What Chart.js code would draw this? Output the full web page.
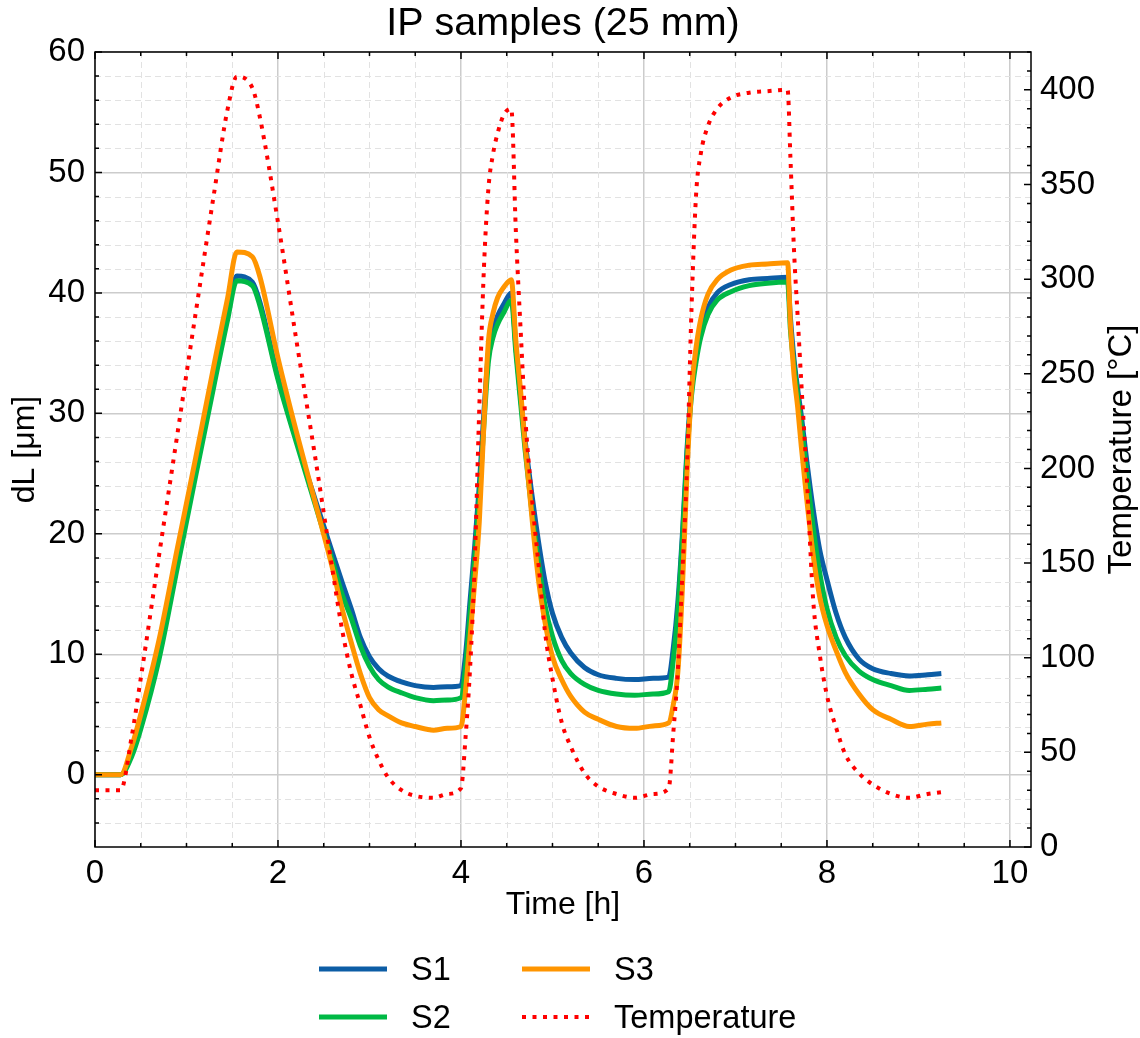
<!DOCTYPE html>
<html>
<head>
<meta charset="utf-8">
<script src="https://cdn.jsdelivr.net/npm/chart.js@4.4.1/dist/chart.umd.min.js"></script>
<style>
  body { margin: 0; background: #fff; }
  #wrap { position: relative; width: 1140px; height: 1038px; font-family: "Liberation Sans", Arial, sans-serif; }
  #chart { display: block; }
  #legend { position: absolute; left: 319px; top: 945px; display: grid;
            grid-template-columns: 203px auto; grid-template-rows: 48px 48px; grid-auto-flow: column; }
  .item { display: flex; align-items: center; font-size: 32.5px; color: #000; }
  .item svg { margin-right: 24px; }
</style>
</head>
<body>
<div id="wrap">
  <canvas id="chart" width="1140" height="1038"></canvas>
  <div id="legend"></div>
</div>
<script>
// time axis [h], shared by all series
const timeH = [0, 0.28, 0.4, 0.5, 0.7, 0.9, 1.1, 1.3, 1.45, 1.55,
  1.72, 1.8, 2.0, 2.2, 2.4, 2.6, 2.7, 2.8, 2.9, 3.0,
  3.1, 3.2, 3.35, 3.5, 3.7, 3.85, 4.0, 4.05, 4.1, 4.15,
  4.2, 4.25, 4.3, 4.35, 4.4, 4.47, 4.55, 4.6, 4.65, 4.7,
  4.78, 4.85, 4.92, 5.0, 5.1, 5.2, 5.35, 5.5, 5.7, 5.9,
  6.1, 6.27, 6.32, 6.37, 6.42, 6.47, 6.52, 6.57, 6.62, 6.7,
  6.8, 6.95, 7.15, 7.35, 7.57, 7.6, 7.64, 7.68, 7.72, 7.78,
  7.85, 7.92, 8.0, 8.1, 8.2, 8.35, 8.5, 8.7, 8.9, 9.1, 9.25];

// dL [um]
const s1 = [0, 0, 1.8, 4.3, 10.2, 17.8, 25.3, 32.8, 38.2, 41.4,
  40.9, 39.3, 33.0, 27.8, 23.0, 18.3, 16.0, 13.8, 11.4, 9.8,
  8.8, 8.2, 7.7, 7.4, 7.25, 7.3, 7.4, 10.0, 14.5, 19.0,
  24.0, 30.0, 35.0, 37.0, 38.1, 39.1, 40.0, 35.5, 31.5, 27.8,
  23.0, 19.2, 16.0, 13.4, 11.4, 10.1, 8.9, 8.3, 8.0, 7.9,
  8.0, 8.1, 10.5, 14.3, 20.0, 27.0, 32.0, 35.0, 37.0, 38.8,
  40.0, 40.7, 41.1, 41.2, 41.3, 38.0, 34.5, 32.0, 29.8, 26.0,
  22.0, 18.7, 16.2, 13.4, 11.4, 9.6, 8.8, 8.4, 8.2, 8.3, 8.4];

const s2 = [0, 0, 1.5, 3.8, 9.6, 17.2, 24.8, 32.3, 37.8, 41.0,
  40.6, 39.0, 32.8, 27.6, 22.6, 17.6, 15.0, 13.0, 10.7, 9.0,
  7.9, 7.3, 6.8, 6.4, 6.15, 6.2, 6.4, 9.0, 13.5, 18.0,
  23.0, 29.0, 34.3, 36.3, 37.4, 38.4, 39.4, 35.0, 31.0, 27.0,
  21.5, 17.5, 14.0, 11.5, 9.5, 8.4, 7.5, 7.0, 6.7, 6.6,
  6.7, 6.9, 9.5, 13.5, 19.5, 26.5, 31.5, 34.3, 36.3, 38.2,
  39.4, 40.1, 40.6, 40.8, 40.9, 37.0, 34.0, 31.5, 29.0, 25.0,
  20.5, 16.8, 13.8, 11.4, 9.9, 8.6, 7.9, 7.4, 7.0, 7.1, 7.2];

const s3 = [0, 0, 2.3, 5.0, 11.2, 18.8, 26.3, 34.0, 39.6, 43.4,
  43.0, 41.4, 34.6, 28.5, 22.8, 17.0, 13.8, 11.0, 8.4, 6.4,
  5.4, 4.9, 4.3, 4.0, 3.7, 3.85, 4.0, 7.0, 11.5, 16.0,
  21.0, 29.0, 36.0, 38.3, 39.6, 40.5, 41.1, 36.0, 32.0, 27.5,
  21.0, 16.0, 12.6, 9.8, 7.9, 6.5, 5.2, 4.6, 4.0, 3.85,
  4.05, 4.3, 5.8, 8.5, 15.5, 25.0, 32.0, 35.5, 37.8, 39.9,
  41.1, 41.9, 42.3, 42.4, 42.5, 37.5, 33.2, 30.5, 27.2, 22.8,
  18.2, 14.8, 12.4, 10.3, 8.5, 6.7, 5.4, 4.6, 4.0, 4.2, 4.3];

// temperature [°C]
const temperature = [30, 30, 58, 89, 154, 218, 282, 345, 390, 407,
  401, 386, 330, 268, 208, 145, 115, 92, 75, 58,
  46, 37, 30, 27, 26, 28, 31, 58, 95, 150,
  232, 305, 348, 366, 377, 387, 390, 325, 275, 229,
  182, 148, 113, 89, 66, 53, 39, 32, 28, 26,
  28, 31, 60, 93, 145, 200, 285, 345, 366, 381,
  390, 396, 398.5, 399.3, 400, 365, 315, 280, 245, 195,
  130, 102, 80, 63, 49, 39, 33, 28, 26, 28, 29];

// tick labels
const xTicks = [0, 2, 4, 6, 8, 10];
const leftTicks = [0, 10, 20, 30, 40, 50, 60];
const rightTicks = [0, 50, 100, 150, 200, 250, 300, 350, 400];

const FONT = '"Liberation Sans", Arial, sans-serif';
const TICK_SIZE = 33;
const LABEL_SIZE = 32;
Chart.defaults.font.family = FONT;
Chart.defaults.color = '#000';

// minor tick positions (axis decoration only)
const xMinor = [], leftMinor = [], rightMinor = [];
for (let v = 0; v <= 10.2; v += 0.5) if (v % 2 !== 0) xMinor.push(v);
for (let v = -4; v <= 60; v += 2) if (v % 10 !== 0) leftMinor.push(v);
for (let v = 10; v <= 420; v += 10) if (v % 50 !== 0) rightMinor.push(v);

const pts = arr => timeH.map((t, i) => ({ x: t, y: arr[i] }));

const frame = {
  id: 'frame',
  beforeDatasetsDraw(chart) {
    const { ctx, chartArea: a, scales } = chart;
    ctx.save();
    ctx.strokeStyle = '#e2e2e2';
    ctx.lineWidth = 1;
    ctx.setLineDash([6, 4]);
    ctx.beginPath();
    xMinor.forEach(v => {
      const px = Math.round(scales.x.getPixelForValue(v)) + 0.5;
      ctx.moveTo(px, a.top); ctx.lineTo(px, a.bottom);
    });
    leftMinor.forEach(v => {
      const py = Math.round(scales.y.getPixelForValue(v)) + 0.5;
      ctx.moveTo(a.left, py); ctx.lineTo(a.right, py);
    });
    ctx.stroke();
    ctx.restore();
  },
  afterDatasetsDraw(chart) {
    const { ctx, chartArea: a, scales } = chart;
    const major = 7, minor = 4;
    ctx.save();
    ctx.strokeStyle = '#000';
    ctx.lineWidth = 1.5;
    ctx.beginPath();
    const xt = (v, len) => {
      const px = scales.x.getPixelForValue(v);
      ctx.moveTo(px, a.bottom); ctx.lineTo(px, a.bottom - len);
      ctx.moveTo(px, a.top); ctx.lineTo(px, a.top + len);
    };
    xTicks.forEach(v => xt(v, major));
    xMinor.forEach(v => xt(v, minor));
    const yl = (v, len) => {
      const py = scales.y.getPixelForValue(v);
      ctx.moveTo(a.left, py); ctx.lineTo(a.left + len, py);
    };
    leftTicks.forEach(v => yl(v, major));
    leftMinor.forEach(v => yl(v, minor));
    const yr = (v, len) => {
      const py = scales.y2.getPixelForValue(v);
      ctx.moveTo(a.right, py); ctx.lineTo(a.right - len, py);
    };
    rightTicks.forEach(v => yr(v, major));
    rightMinor.forEach(v => yr(v, minor));
    ctx.stroke();
    ctx.strokeRect(a.left, a.top, a.right - a.left, a.bottom - a.top);

    // right axis title, reading bottom to top
    ctx.translate(1122, (a.top + a.bottom) / 2);
    ctx.rotate(-Math.PI / 2);
    ctx.fillStyle = '#000';
    ctx.font = '33px ' + FONT;
    ctx.textAlign = 'center';
    ctx.textBaseline = 'middle';
    ctx.fillText('Temperature [°C]', 0, 0);
    ctx.restore();
  }
};

const chart = new Chart(document.getElementById('chart').getContext('2d'), {
  type: 'line',
  data: {
    datasets: [
      { label: 'S1', data: pts(s1), borderColor: '#0C5DA5', borderWidth: 5, yAxisID: 'y', order: 3 },
      { label: 'S2', data: pts(s2), borderColor: '#00B945', borderWidth: 5, yAxisID: 'y', order: 2 },
      { label: 'S3', data: pts(s3), borderColor: '#FF9500', borderWidth: 5, yAxisID: 'y', order: 1 },
      { label: 'Temperature', data: pts(temperature), borderColor: '#ff0000', borderWidth: 4,
        borderDash: [4, 6.5], borderCapStyle: 'butt', yAxisID: 'y2', order: 0 }
    ]
  },
  options: {
    responsive: false,
    animation: false,
    layout: { padding: { left: 0, right: 14, top: 0, bottom: 110 } },
    elements: {
      point: { radius: 0 },
      line: { cubicInterpolationMode: 'monotone', fill: false }
    },
    plugins: {
      legend: { display: false },
      tooltip: { enabled: false },
      title: {
        display: true, text: 'IP samples (25 mm)',
        font: { size: 39.5, weight: 'normal', lineHeight: 1.2 }, color: '#000',
        padding: { top: 0, bottom: 4.6 }
      }
    },
    scales: {
      x: {
        type: 'linear', min: 0, max: 10.23,
        afterBuildTicks: s => { s.ticks = xTicks.map(v => ({ value: v })); },
        afterFit: s => { s.height = 81; },
        ticks: { font: { size: TICK_SIZE }, padding: 7, autoSkip: false, maxRotation: 0 },
        grid: { color: '#cccccc', lineWidth: 1.5, drawTicks: false },
        border: { display: false },
        title: { display: true, text: 'Time [h]', font: { size: LABEL_SIZE }, padding: { bottom: 4 } }
      },
      y: {
        position: 'left', min: -6, max: 60,
        afterBuildTicks: s => { s.ticks = leftTicks.map(v => ({ value: v })); },
        afterFit: s => { s.width = 95; },
        ticks: { font: { size: TICK_SIZE }, padding: 10 },
        grid: { color: '#cccccc', lineWidth: 1.5, drawTicks: false },
        border: { display: false },
        title: { display: true, text: 'dL [μm]', font: { size: LABEL_SIZE }, padding: { top: 6 } }
      },
      y2: {
        position: 'right', min: 0, max: 420,
        afterBuildTicks: s => { s.ticks = rightTicks.map(v => ({ value: v })); },
        afterFit: s => { s.width = 95; },
        ticks: { font: { size: TICK_SIZE }, padding: 9 },
        grid: { display: false, drawTicks: false },
        border: { display: false }
      }
    }
  },
  plugins: [frame]
});

// legend below the plot, two columns
const legend = document.getElementById('legend');
chart.data.datasets.forEach(ds => {
  const item = document.createElement('div');
  item.className = 'item';
  const dash = ds.borderDash ? ` stroke-dasharray="${ds.borderDash.join(' ')}"` : '';
  item.innerHTML = `<svg width="68" height="10"><line x1="0" y1="5" x2="68" y2="5" stroke="${ds.borderColor}" stroke-width="${ds.borderWidth}"${dash}/></svg><span>${ds.label}</span>`;
  legend.appendChild(item);
});
</script>
</body>
</html>
